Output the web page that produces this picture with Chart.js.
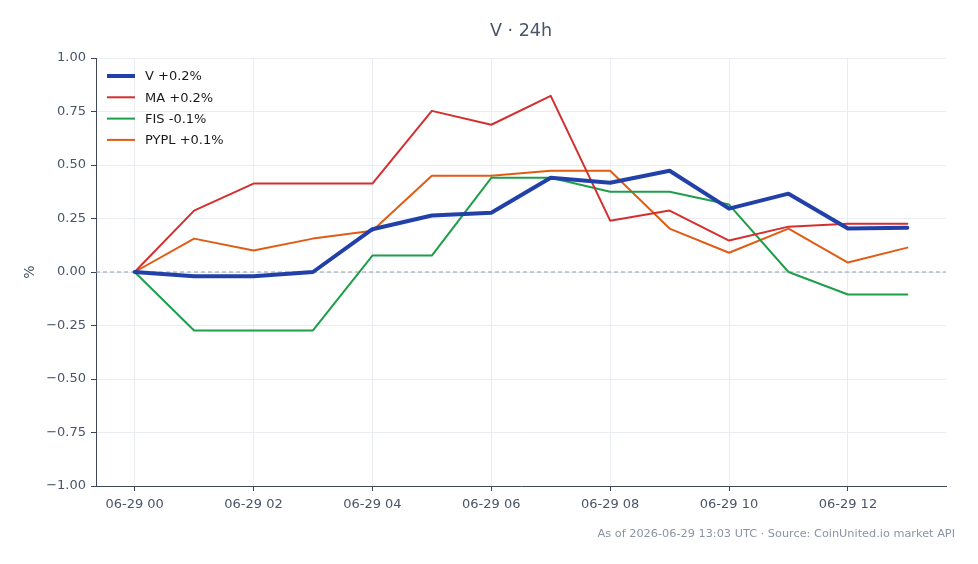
<!DOCTYPE html>
<html>
<head>
<meta charset="utf-8">
<script src="https://cdn.jsdelivr.net/npm/chart.js@4/dist/chart.umd.min.js"></script>
<style>
  html, body { margin: 0; padding: 0; background: #fff; }
  #wrap { width: 978px; height: 564px; }
</style>
</head>
<body>
<div id="wrap"><canvas id="myChart" width="978" height="564"></canvas></div>
<script>
// hours since 06-29 00:00 UTC
var hours = [0, 1, 2, 3, 4, 5, 6, 7, 8, 9, 10, 11, 12, 13];
var xTicks = [0, 2, 4, 6, 8, 10, 12];
var yTicks = [-1, -0.75, -0.5, -0.25, 0, 0.25, 0.5, 0.75, 1];

var seriesNames = ['V +0.2%', 'MA +0.2%', 'FIS -0.1%', 'PYPL +0.1%'];
var vValues    = [0, -0.02, -0.02, 0, 0.20, 0.264, 0.277, 0.44, 0.417, 0.473, 0.296, 0.366, 0.203, 0.207];
var maValues   = [0, 0.287, 0.413, 0.413, 0.413, 0.753, 0.688, 0.823, 0.24, 0.287, 0.147, 0.212, 0.226, 0.226];
var fisValues  = [0, -0.273, -0.273, -0.273, 0.077, 0.077, 0.44, 0.44, 0.375, 0.375, 0.315, 0.0, -0.105, -0.105];
var pyplValues = [0, 0.156, 0.10, 0.156, 0.193, 0.45, 0.45, 0.473, 0.473, 0.203, 0.09, 0.203, 0.044, 0.114];

function points(vals) {
    return vals.map(function (v, i) { return { x: hours[i], y: v }; });
}

function pad(n) { return (n < 10 ? '0' : '') + n; }

// legend drawn inside the plot, top-left
const insideLegend = {
    id: 'insideLegend',
    afterDraw(chart) {
        const ctx = chart.ctx;
        const left = chart.chartArea.left;
        const top = chart.chartArea.top;
        ctx.save();
        ctx.font = '13px "DejaVu Sans"';
        ctx.textBaseline = 'middle';
        chart.data.datasets.forEach(function (ds, i) {
            const y = top + 18 + i * 21.3;
            ctx.strokeStyle = ds.borderColor;
            ctx.lineWidth = ds.borderWidth;
            ctx.beginPath();
            ctx.moveTo(left + 11, y);
            ctx.lineTo(left + 39, y);
            ctx.stroke();
            ctx.fillStyle = '#1a1a1a';
            ctx.fillText(ds.label, left + 49, y + 1);
        });
        ctx.restore();
    }
};

// title over the plot, dashed zero line, footer note
const extras = {
    id: 'extras',
    beforeDatasetsDraw(chart) {
        const ctx = chart.ctx;
        const y = chart.scales.y.getPixelForValue(0);
        ctx.save();
        ctx.strokeStyle = '#8f9bb5';
        ctx.lineWidth = 1;
        ctx.setLineDash([4, 3]);
        ctx.beginPath();
        ctx.moveTo(chart.chartArea.left, y);
        ctx.lineTo(chart.chartArea.right, y);
        ctx.stroke();
        ctx.restore();
    },
    afterDraw(chart) {
        const ctx = chart.ctx;
        const area = chart.chartArea;
        ctx.save();
        ctx.font = '17.5px "DejaVu Sans"';
        ctx.fillStyle = '#4a5568';
        ctx.textAlign = 'center';
        ctx.textBaseline = 'middle';
        ctx.fillText('V \u00b7 24h', (area.left + area.right) / 2, 31);
        ctx.font = '11.3px "DejaVu Sans"';
        ctx.fillStyle = '#8a94a6';
        ctx.textAlign = 'right';
        ctx.fillText('As of 2026-06-29 13:03 UTC \u00b7 Source: CoinUnited.io market API', 955, 534);
        ctx.restore();
    }
};

const tickColor = '#4a5568';
const gridColor = '#e9ecf1';
const axisColor = '#3d4757';

new Chart(document.getElementById('myChart'), {
    type: 'line',
    data: {
        datasets: [{
            label: seriesNames[0],
            data: points(vValues),
            borderColor: '#2141a8',
            borderWidth: 4,
            order: 0
        }, {
            label: seriesNames[1],
            data: points(maValues),
            borderColor: '#d32f2f',
            borderWidth: 2,
            order: 1
        }, {
            label: seriesNames[2],
            data: points(fisValues),
            borderColor: '#1e9e4b',
            borderWidth: 2,
            order: 2
        }, {
            label: seriesNames[3],
            data: points(pyplValues),
            borderColor: '#e05c14',
            borderWidth: 2,
            order: 3
        }]
    },
    options: {
        responsive: false,
        animation: false,
        devicePixelRatio: 1,
        layout: { padding: { left: 0, right: 32, top: 58, bottom: 0 } },
        elements: {
            point: { radius: 0 },
            line: { tension: 0, borderCapStyle: 'round', borderJoinStyle: 'round' }
        },
        plugins: {
            legend: { display: false },
            tooltip: { enabled: false },
            title: { display: false }
        },
        scales: {
            x: {
                type: 'linear',
                min: -0.65,
                max: 13.65,
                afterBuildTicks: function (scale) {
                    scale.ticks = xTicks.map(function (v) { return { value: v }; });
                },
                afterFit: function (scale) { scale.height = 78; },
                ticks: {
                    color: tickColor,
                    font: { family: 'DejaVu Sans', size: 13 },
                    padding: 6,
                    maxRotation: 0,
                    callback: function (v) { return '06-29 ' + pad(v); }
                },
                grid: { color: gridColor, tickColor: axisColor, tickLength: 5 },
                border: { color: axisColor, width: 1 }
            },
            y: {
                min: -1,
                max: 1,
                afterBuildTicks: function (scale) {
                    scale.ticks = yTicks.map(function (v) { return { value: v }; });
                },
                afterFit: function (scale) { scale.width = 96; },
                ticks: {
                    color: tickColor,
                    font: { family: 'DejaVu Sans', size: 13 },
                    padding: 5,
                    callback: function (v) { return v.toFixed(2).replace('-', '\u2212'); }
                },
                title: {
                    display: true,
                    text: '%',
                    color: tickColor,
                    font: { family: 'DejaVu Sans', size: 14 },
                    padding: { top: 22, bottom: 0 }
                },
                grid: { color: gridColor, tickColor: axisColor, tickLength: 5 },
                border: { color: axisColor, width: 1 }
            }
        }
    },
    plugins: [insideLegend, extras]
});
</script>
</body>
</html>
